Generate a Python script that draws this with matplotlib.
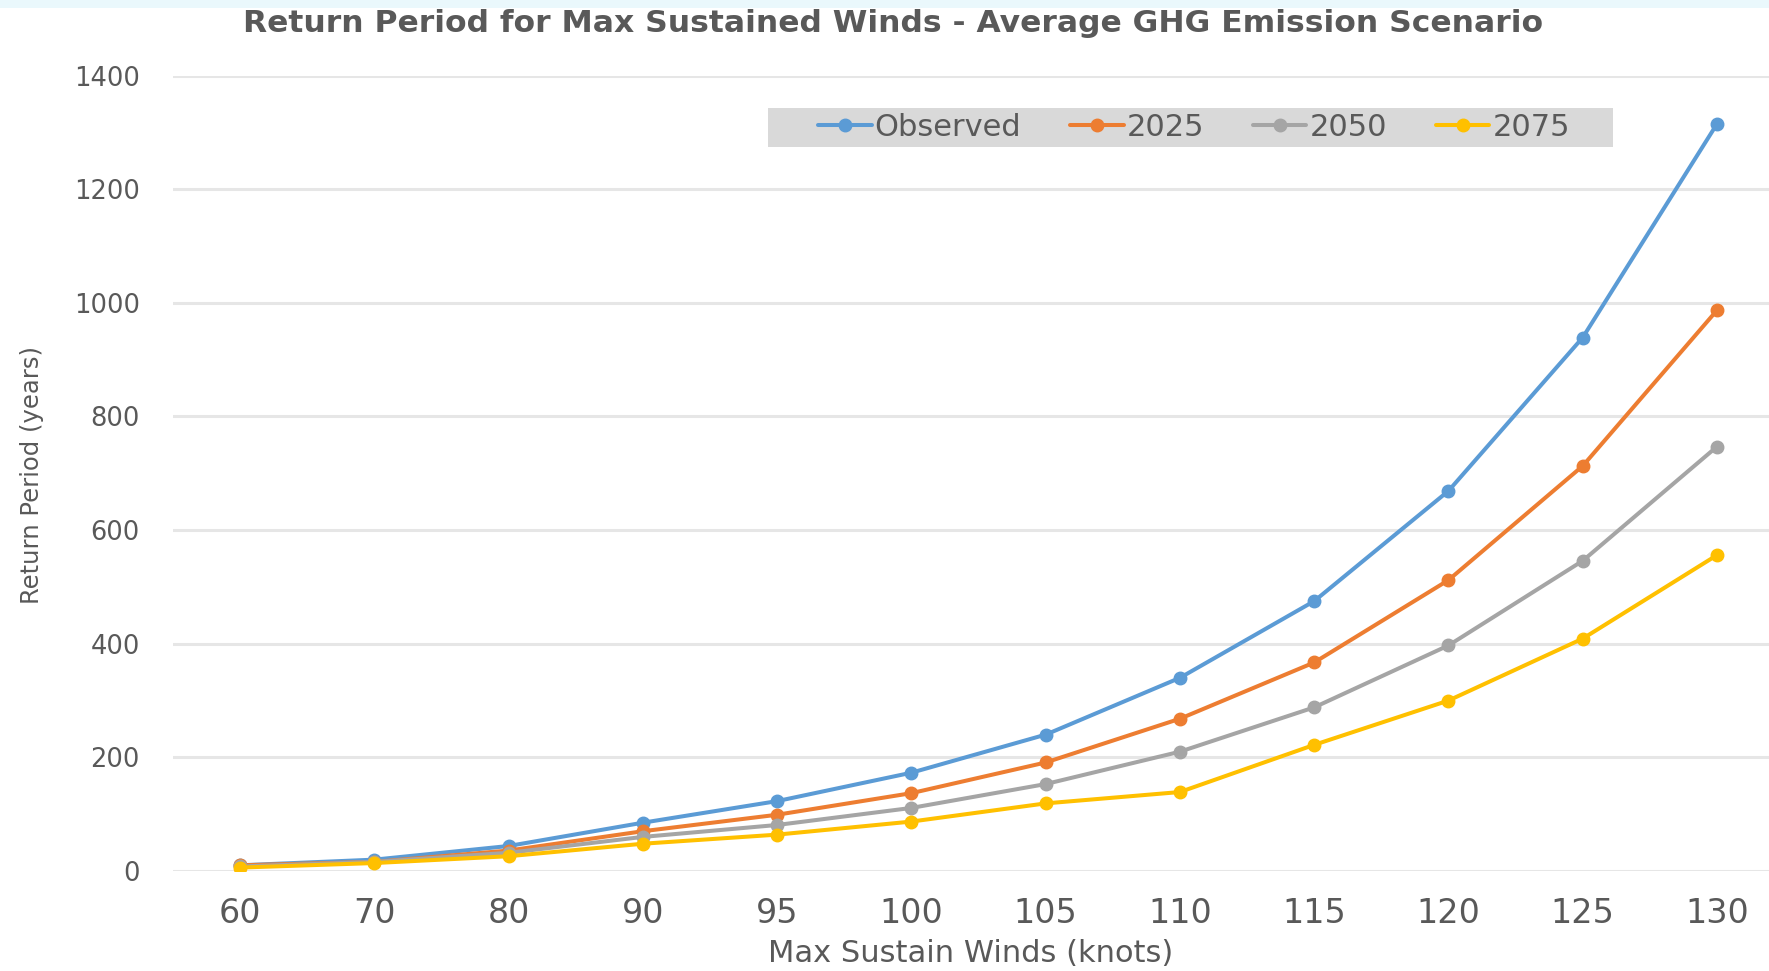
import matplotlib
matplotlib.use("Agg")
import matplotlib.pyplot as plt
from matplotlib.patches import Rectangle

categories = ["60", "70", "80", "90", "95", "100", "105", "110", "115", "120", "125", "130"]
observed = [10, 20, 44, 85, 123, 173, 240, 340, 475, 669, 939, 1315]
y2025 = [10, 16, 36, 70, 99, 137, 191, 268, 367, 512, 713, 987]
y2050 = [8, 16, 32, 60, 81, 111, 153, 210, 288, 397, 546, 747]
y2075 = [6, 14, 26, 48, 64, 87, 119, 139, 222, 300, 409, 556]
series_names = ["Observed", "2025", "2050", "2075"]
colors = ["#5B9BD5", "#ED7D31", "#A5A5A5", "#FFC000"]

W, H = 1769, 971
fig = plt.figure(figsize=(W / 100, H / 100), dpi=100)
fig.patches.append(Rectangle((0, 1 - 8 / H), 1, 8 / H, transform=fig.transFigure,
                             facecolor="#EAF8FC", edgecolor="none", zorder=0))

left, right = 173, 1769
bottom_px, top_px = 871, 75.6
ax = fig.add_axes([left / W, (H - bottom_px) / H, (right - left) / W, (bottom_px - top_px) / H])

# legend background box
ax.add_patch(Rectangle((768 / W, 1 - 147 / H), (1613 - 768) / W, (147 - 108) / H,
                       transform=fig.transFigure, facecolor="#D9D9D9",
                       edgecolor="none", zorder=1, clip_on=False))

x = list(range(len(categories)))
for vals, name, c in zip([observed, y2025, y2050, y2075], series_names, colors):
    ax.plot(x, vals, color=c, lw=2.9, marker="o", markersize=9, label=name, zorder=3,
            solid_capstyle="round")

step = (1717 - 240) / 11
ax.set_xlim(-(240 - left) / step, (right - 240) / step)
ax.set_ylim(0, 1400)
ax.set_yticks(range(0, 1401, 200))
ax.set_xticks(x)
ax.set_xticklabels(categories)
ax.grid(axis="y", color="#E6E6E6", lw=2.2)
ax.set_axisbelow(True)
for s in ax.spines.values():
    s.set_visible(False)
ax.tick_params(axis="both", length=0, labelcolor="#595959")
ax.tick_params(axis="y", pad=24, labelsize=18.5)
ax.tick_params(axis="x", pad=19, labelsize=24)

ax.set_xlabel("Max Sustain Winds (knots)", fontsize=22, color="#595959", labelpad=6)
fig.text(32 / W, 1 - 475 / H, "Return Period (years)", rotation=90, fontsize=17.5,
         color="#595959", ha="center", va="center")
fig.text(893 / W, 1 - 24 / H, "Return Period for Max Sustained Winds - Average GHG Emission Scenario",
         fontsize=22.6, fontweight="bold", color="#595959", ha="center", va="center")

leg = ax.legend(loc="center", bbox_to_anchor=((1194 - left) / (right - left), (bottom_px - 127.5) / (bottom_px - top_px)),
                ncol=4, frameon=False, fontsize=22, handlelength=1.75, columnspacing=1.6,
                handletextpad=0.1, borderpad=0.15, borderaxespad=0)
leg.set_zorder(5)
for t in leg.get_texts():
    t.set_color("#595959")

fig.savefig("out.png", dpi=100)
